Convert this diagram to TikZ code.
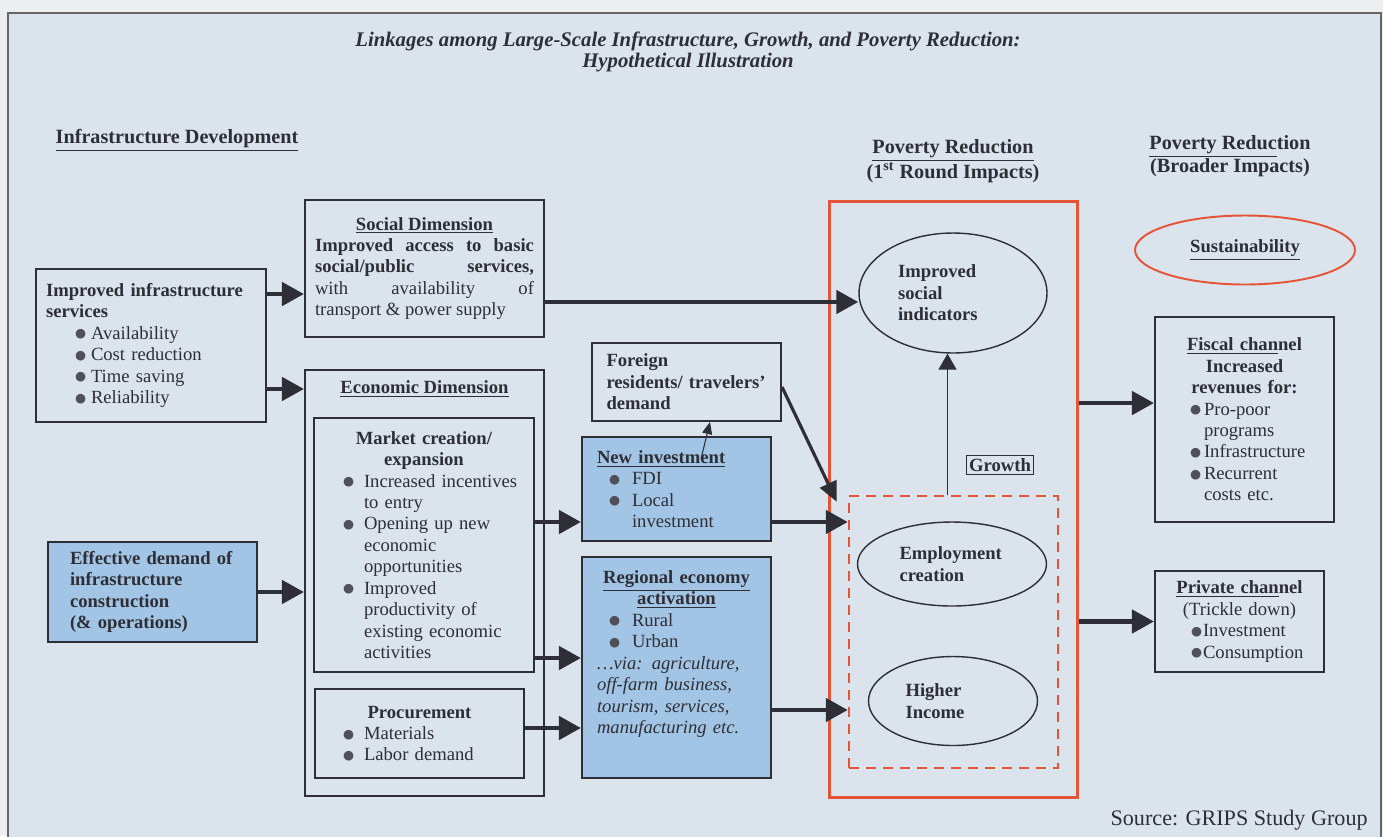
\documentclass[tikz,border=0pt]{standalone}
\usepackage{fontspec}
\setmainfont{Liberation Serif}
\newfontfamily\dotfont{DejaVu Sans}
\usetikzlibrary{positioning, shapes.geometric, arrows.meta}

\definecolor{paper}{RGB}{236,238,239}
\definecolor{bgblue}{RGB}{219,228,237}
\definecolor{boxblue}{RGB}{163,197,229}
\definecolor{ink}{RGB}{46,46,54}
\definecolor{redline}{RGB}{230,84,56}
\definecolor{dotgray}{RGB}{80,80,88}

\newcommand{\bul}{\raisebox{0.8pt}{\dotfont\fontsize{7.2}{8}\selectfont\color{dotgray}●}}
\newcommand{\bi}[3]{\hspace*{#1}\makebox[#2][l]{\bul}#3}
\newcommand{\bc}[3]{\hspace*{#1}\hspace*{#2}#3}
\newcommand{\hdl}[1]{\makebox[\linewidth]{#1}}
\newcommand{\ul}[1]{\underline{#1}}

\tikzset{
  body/.style={font=\fontsize{10.6}{12.2}\selectfont, text=ink},
  bold/.style={font=\fontsize{10.6}{12.2}\selectfont\bfseries, text=ink},
  box/.style={draw=ink, line width=1.2pt, rectangle, inner ysep=0pt, align=left, body},
  bluebox/.style={box, fill=boxblue},
  oval/.style={draw=ink, line width=0.8pt, ellipse, inner sep=0pt, align=left, bold},
  heading/.style={font=\fontsize{11.5}{13}\selectfont\bfseries, text=ink, align=center, inner sep=0pt},
  arr/.style={draw=ink, line width=2.6pt, -{Triangle[length=0.44cm, width=0.46cm]}},
  diagarr/.style={draw=ink, line width=1.8pt, -{Triangle[length=0.4cm, width=0.36cm]}},
  uparr/.style={draw=ink, line width=1pt, -{Triangle[length=0.32cm, width=0.36cm]}},
  thinarr/.style={draw=ink, line width=0.6pt, -{Triangle[length=0.24cm, width=0.2cm]}},
}

\begin{document}
\begin{tikzpicture}[x=0.02cm, y=-0.02cm]
        \useasboundingbox (0,0) rectangle (1383,836);
        % Background
        \fill[paper] (0,0) rectangle (1383,836);
        \draw[fill=bgblue, draw=gray!80!black, line width=1pt] (8,13) rectangle (1381,850);

        % Titles and column headings
        \node[heading, font=\fontsize{11.8}{11.6}\selectfont\bfseries\itshape] (title) at (688,52)
            {Linkages among Large-Scale Infrastructure, Growth, and Poverty Reduction:\\Hypothetical Illustration};
        \node[heading] (infdev) at (177,140) {\ul{Infrastructure Development}};
        \node[heading] (pr1) at (953,161) {\ul{Poverty Reduction}\\(1\textsuperscript{st} Round Impacts)};
        \node[heading] (pr2) at (1230,156) {\ul{Poverty Reduc}tion\\(Broader Impacts)};

        % Infrastructure development
        \node[box, minimum width=4.6cm, minimum height=3.06cm, text width=4.2cm, inner xsep=0.2cm] (infra) at (151,345.5)
            {\textbf{Improved infrastructure}\\\textbf{services}\\
             \bi{0.58cm}{0.32cm}{Availability}\\\bi{0.58cm}{0.32cm}{Cost reduction}\\
             \bi{0.58cm}{0.32cm}{Time saving}\\\bi{0.58cm}{0.32cm}{Reliability}};
        \node[bluebox, bold, minimum width=4.18cm, minimum height=2cm, text width=3.3cm, inner xsep=0.44cm] (eff) at (152.5,592)
            {Effective demand of\\infrastructure\\construction\\(\& operations)};

        % Social and economic dimensions
        \node[box, align=justify, minimum width=4.78cm, minimum height=2.74cm, text width=4.38cm, inner xsep=0.2cm] (social) at (424.5,268.5)
            {\hdl{\textbf{\ul{Social Dimension}}}\\\textbf{Improved access to basic social/public services,}\linebreak
             with availability of\linebreak transport \& power supply};
        \node[box, minimum width=4.78cm, minimum height=8.52cm] (econ) at (424.5,583) {};
        \node[bold, inner sep=0pt] (econtitle) [below=0.22cm of econ.north] {\ul{Economic Dimension}};
        \node[box, minimum width=4.4cm, minimum height=5.08cm, text width=4.16cm, inner xsep=0.12cm] (market) at (424,545)
            {\hdl{\textbf{Market creation/}}\\\hdl{\textbf{expansion}}\\
             \bi{0.46cm}{0.42cm}{Increased incentives}\\\bc{0.46cm}{0.42cm}{to entry}\\
             \bi{0.46cm}{0.42cm}{Opening up new}\\\bc{0.46cm}{0.42cm}{economic}\\\bc{0.46cm}{0.42cm}{opportunities}\\
             \bi{0.46cm}{0.42cm}{Improved}\\\bc{0.46cm}{0.42cm}{productivity of}\\
             \bc{0.46cm}{0.42cm}{existing economic}\\\bc{0.46cm}{0.42cm}{activities}};
        \node[box, minimum width=4.18cm, minimum height=1.78cm, text width=3.94cm, inner xsep=0.12cm] (proc) at (419.5,733.5)
            {\hdl{\textbf{Procurement}}\\\bi{0.44cm}{0.42cm}{Materials}\\\bi{0.44cm}{0.42cm}{Labor demand}};

        % Middle column
        \node[box, bold, minimum width=3.78cm, minimum height=1.56cm, text width=3.2cm, inner xsep=0.29cm] (foreign) at (686.5,382)
            {Foreign\\residents/ travelers'\\demand};
        \node[bluebox, minimum width=3.78cm, minimum height=2.08cm, text width=3.18cm, inner xsep=0.3cm] (newinv) at (676.5,489)
            {\textbf{\ul{New investment}}\\\bi{0.24cm}{0.46cm}{FDI}\\\bi{0.24cm}{0.46cm}{Local}\\\bc{0.24cm}{0.46cm}{investment}};
        \node[bluebox, minimum width=3.78cm, minimum height=4.42cm, text width=3.18cm, inner xsep=0.3cm] (region) at (676.5,667.5)
            {\hdl{\textbf{\ul{Regional economy}}}\\\hdl{\textbf{\ul{activation}}}\\
             \bi{0.24cm}{0.46cm}{Rural}\\\bi{0.24cm}{0.46cm}{Urban}\\
             \textit{…via: agriculture,}\\\textit{off-farm business,}\\\textit{tourism, services,}\\\textit{manufacturing etc.}\\[0.19cm]\null};

        % Poverty reduction, 1st round
        \node[draw=redline, line width=1.7pt, minimum width=4.98cm, minimum height=11.94cm, inner sep=0pt] (red) at (953.5,499.5) {};
        \node[draw=redline, line width=1.4pt, dash pattern=on 0.2cm off 0.14cm, minimum width=4.18cm, minimum height=5.44cm, inner sep=0pt] (dashbox) at (953.5,632) {};
        \node[oval, minimum width=3.76cm, minimum height=2.4cm, text width=2.2cm] (isoc) at (953,293) {Improved\\social\\indicators};
        \node[oval, minimum width=3.78cm, minimum height=1.68cm, text width=2.1cm] (emp) at (952,564) {Employment\\creation};
        \node[oval, minimum width=3.38cm, minimum height=1.78cm, text width=1.9cm] (inc) at (953,701) {Higher\\Income};
        \node[draw=ink, line width=0.6pt, bold, inner sep=0.06cm] (growth) at (1000,465) {Growth};

        % Broader impacts
        \node[oval, draw=redline, line width=1.1pt, align=center, minimum width=4.4cm, minimum height=1.38cm] (sus) at (1245,250) {\ul{Sustainability}};
        \node[box, minimum width=3.58cm, minimum height=4.1cm, text width=3.26cm, inner xsep=0.16cm] (fiscal) at (1244.5,419.5)
            {\hdl{\textbf{\ul{Fiscal chan}nel}}\\\hdl{\textbf{Increased}}\\\hdl{\textbf{revenues for:}}\\
             \bi{0.54cm}{0.28cm}{Pro-poor}\\\bc{0.54cm}{0.28cm}{programs}\\
             \bi{0.54cm}{0.28cm}{Infrastructure}\\\bi{0.54cm}{0.28cm}{Recurrent}\\\bc{0.54cm}{0.28cm}{costs etc.}};
        \node[box, minimum width=3.38cm, minimum height=2.02cm, text width=3.06cm, inner xsep=0.16cm] (private) at (1239.5,621.5)
            {\hdl{\textbf{\ul{Private chan}nel}}\\\hdl{(Trickle down)}\\
             \bi{0.56cm}{0.24cm}{Investment}\\\bi{0.56cm}{0.24cm}{Consumption}};
        \node[anchor=east, font=\fontsize{12.6}{14}\selectfont, text=ink, inner sep=0pt] (src) at (1368,820) {Source: GRIPS Study Group};

        % Arrows
        \draw[arr] ([yshift=1.03cm]infra.east) -- ([yshift=1.03cm]infra.east -| social.west);
        \draw[arr] ([yshift=-0.87cm]infra.east) -- ([yshift=-0.87cm]infra.east -| econ.west);
        \draw[arr] (eff.east) -- (eff.east -| econ.west);
        \draw[arr] ([yshift=-0.67cm]social.east) -- ([yshift=-0.67cm]social.east -| isoc.west);

        \draw[arr] ([yshift=-0.66cm]newinv.west -| market.east) -- ([yshift=-0.66cm]newinv.west);
        \draw[arr] ([yshift=0.19cm]region.west -| market.east) -- ([yshift=0.19cm]region.west);
        \draw[arr] ([yshift=-1.21cm]region.west -| proc.east) -- ([yshift=-1.21cm]region.west);

        \draw[thinarr] ([xshift=0.49cm,yshift=-0.46cm]newinv.north) -- ([xshift=0.47cm]foreign.south);
        \draw[diagarr] ([yshift=-0.1cm]foreign.east) -- ([xshift=-0.22cm,yshift=-0.14cm]dashbox.north west);
        \draw[arr] ([yshift=-0.66cm]newinv.east) -- ([yshift=-0.66cm]newinv.east -| dashbox.west);
        \draw[arr] ([yshift=-0.85cm]region.east) -- ([yshift=-0.85cm]region.east -| dashbox.west);

        \draw[uparr] ([xshift=-0.12cm]dashbox.north) -- ([xshift=-0.12cm]dashbox.north |- isoc.south);

        \draw[arr] ([yshift=1.93cm]red.east) -- ([yshift=1.93cm]red.east -| fiscal.west);
        \draw[arr] (private.west -| red.east) -- (private.west);

    \end{tikzpicture}
\end{document}
